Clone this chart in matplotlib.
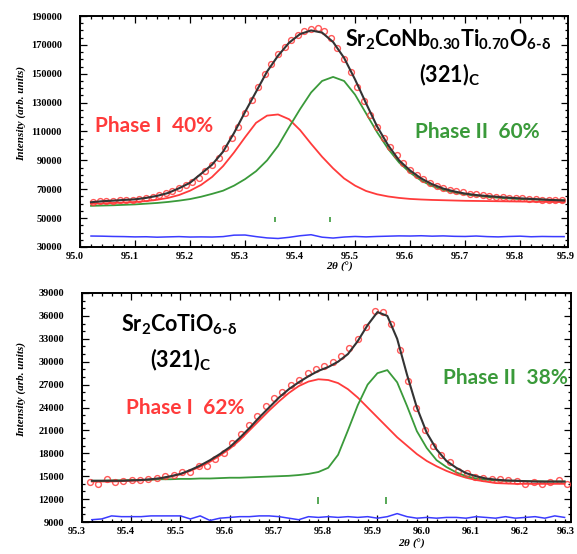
import matplotlib
matplotlib.use('Agg')
import matplotlib.pyplot as plt
from matplotlib.ticker import MultipleLocator
from matplotlib.transforms import ScaledTranslation

plt.rcParams['mathtext.fontset'] = 'custom'
plt.rcParams['mathtext.rm'] = 'Lato:bold'
plt.rcParams['mathtext.default'] = 'regular'
plt.rcParams['xtick.direction'] = 'in'
plt.rcParams['ytick.direction'] = 'in'

# ---- top panel: Sr2CoNb0.30Ti0.70O6-d ----
top_x = [95.02, 95.04, 95.06, 95.08, 95.10, 95.12, 95.14, 95.16, 95.18, 95.20, 95.22,
         95.24, 95.26, 95.28, 95.30, 95.32, 95.34, 95.36, 95.38, 95.40, 95.42, 95.44,
         95.46, 95.48, 95.50, 95.52, 95.54, 95.56, 95.58, 95.60, 95.62, 95.64, 95.66,
         95.68, 95.70, 95.72, 95.74, 95.76, 95.78, 95.80, 95.82, 95.84, 95.86, 95.88]
top_calc = [61000, 61700, 62100, 62600, 63000, 64000, 65400, 67400, 70700, 74500, 80700,
            87000, 96000, 109000, 123500, 137500, 151500, 162500, 171500, 177500, 180000, 178500,
            172000, 161000, 146000, 129500, 113500, 100500, 90000, 83000, 77500, 73500, 70500,
            68500, 67000, 66000, 65300, 64700, 64100, 63700, 63300, 62900, 62500, 62200]
top_phase1 = [60000, 60200, 60500, 60800, 61200, 61800, 62700, 64000, 66000, 69000, 73000,
              78500, 86000, 95500, 106000, 116000, 121000, 121800, 118500, 111000, 101500, 92500,
              84500, 77500, 72500, 68800, 66500, 65000, 64000, 63300, 62900, 62600, 62400,
              62200, 62000, 61900, 61800, 61700, 61600, 61500, 61400, 61300, 61200, 61100]
top_phase2 = [58500, 58700, 58900, 59200, 59500, 60000, 60500, 61200, 62100, 63200, 64800,
              66800, 69000, 72500, 77000, 82500, 90000, 100000, 113000, 125500, 137000, 145000,
              147800, 145000, 135500, 122500, 109500, 98000, 88500, 81500, 76000, 72200, 69500,
              67700, 66500, 65500, 64700, 64100, 63600, 63200, 63000, 62800, 62600, 62400]
top_diff = [37600, 37500, 37300, 37200, 37000, 37100, 36800, 37000, 37200, 36900, 37000,
            36900, 37200, 38200, 38300, 37200, 36300, 35900, 36700, 37800, 38500, 36800,
            36200, 36900, 37300, 37000, 37300, 37500, 37700, 37600, 37800, 37500, 37700,
            37400, 37300, 37600, 37200, 37000, 37300, 37500, 37100, 37300, 37200, 37200]
top_obs_x = [95.024, 95.036, 95.048, 95.060, 95.072, 95.084, 95.096, 95.108, 95.120, 95.132,
             95.144, 95.156, 95.168, 95.180, 95.192, 95.204, 95.216, 95.228, 95.240, 95.252,
             95.264, 95.276, 95.288, 95.300, 95.312, 95.324, 95.336, 95.348, 95.360, 95.372,
             95.384, 95.396, 95.408, 95.420, 95.432, 95.444, 95.456, 95.468, 95.480, 95.492,
             95.504, 95.516, 95.528, 95.540, 95.552, 95.564, 95.576, 95.588, 95.600, 95.612,
             95.624, 95.636, 95.648, 95.660, 95.672, 95.684, 95.696, 95.708, 95.720, 95.732,
             95.744, 95.756, 95.768, 95.780, 95.792, 95.804, 95.816, 95.828, 95.840, 95.852,
             95.864, 95.876]
top_obs = [61300, 61800, 62000, 62200, 62500, 62700, 62900, 63400, 64100, 64800,
           65900, 67100, 68700, 70600, 72900, 75200, 78000, 82500, 87000, 91500,
           98500, 105500, 113000, 122500, 131500, 140500, 149500, 157000, 163500, 168500,
           173500, 177000, 179500, 181000, 181500, 179500, 175000, 168000, 160000, 151000,
           141000, 131000, 121500, 113000, 105500, 99000, 93500, 88000, 83500, 80000,
           77000, 74500, 72500, 71000, 69800, 68800, 67800, 67000, 66400, 65800,
           65300, 64900, 64500, 64200, 63900, 63600, 63300, 63100, 62900, 62700,
           62500, 62300]
top_bragg = [95.355, 95.455]

# ---- bottom panel: Sr2CoTiO6-d ----
bot_x = [95.32, 95.34, 95.36, 95.38, 95.40, 95.42, 95.44, 95.46, 95.48, 95.50, 95.52,
         95.54, 95.56, 95.58, 95.60, 95.62, 95.64, 95.66, 95.68, 95.70, 95.72, 95.74,
         95.76, 95.78, 95.80, 95.82, 95.84, 95.86, 95.88, 95.90, 95.92, 95.94, 95.96,
         95.98, 96.00, 96.02, 96.04, 96.06, 96.08, 96.10, 96.12, 96.14, 96.16, 96.18,
         96.20, 96.22, 96.24, 96.26, 96.28]
bot_calc = [14400, 14400, 14400, 14400, 14450, 14500, 14600, 14750, 15000, 15300, 15800,
            16400, 17100, 17900, 18800, 20000, 21300, 22700, 24000, 25300, 26400, 27300,
            28100, 28800, 29300, 30000, 31000, 32700, 34800, 36500, 36000, 33000, 28300,
            24000, 20700, 18500, 17000, 16100, 15400, 15000, 14700, 14550, 14450, 14400,
            14350, 14300, 14300, 14300, 14300]
bot_phase1 = [14300, 14300, 14300, 14350, 14400, 14450, 14550, 14700, 14950, 15250, 15700,
              16250, 16900, 17700, 18600, 19700, 21000, 22300, 23600, 24800, 25900, 26800,
              27400, 27700, 27600, 27200, 26400, 25300, 24000, 22700, 21400, 20100, 19000,
              17900, 17000, 16300, 15700, 15200, 14800, 14500, 14300, 14100, 14050, 14000,
              14000, 14000, 14000, 14000, 14000]
bot_phase2 = [14400, 14400, 14450, 14450, 14500, 14500, 14550, 14600, 14600, 14650, 14650,
              14700, 14700, 14750, 14800, 14800, 14850, 14900, 14950, 15000, 15050, 15150,
              15300, 15550, 16100, 17800, 21000, 24300, 27000, 28500, 28900, 27300, 24200,
              20900, 18700, 17100, 16200, 15500, 15000, 14700, 14550, 14450, 14400, 14400,
              14350, 14350, 14300, 14300, 14300]
bot_diff = [9300, 9400, 9800, 9700, 9700, 9700, 9800, 9800, 9800, 9800, 9400,
            9800, 9200, 9500, 9600, 9700, 9700, 9800, 9800, 9700, 9500, 9300,
            9700, 9600, 9700, 9600, 9700, 9600, 9700, 9500, 9700, 10100, 9700,
            9500, 9600, 9500, 9600, 9600, 9500, 9700, 9600, 9500, 9700, 9500,
            9600, 9700, 9500, 9800, 9600]
bot_obs_x = [95.316, 95.333, 95.350, 95.367, 95.384, 95.401, 95.418, 95.435, 95.452, 95.469,
             95.486, 95.503, 95.520, 95.537, 95.554, 95.571, 95.588, 95.605, 95.622, 95.639,
             95.656, 95.673, 95.690, 95.707, 95.724, 95.741, 95.758, 95.775, 95.792, 95.809,
             95.826, 95.843, 95.860, 95.877, 95.894, 95.911, 95.928, 95.945, 95.962, 95.979,
             95.996, 96.013, 96.030, 96.047, 96.064, 96.081, 96.098, 96.115, 96.132, 96.149,
             96.166, 96.183, 96.200, 96.217, 96.234, 96.251, 96.268, 96.285]
bot_obs = [14200, 14000, 14600, 14300, 14400, 14500, 14500, 14600, 14700, 15000,
           15200, 15600, 15500, 16300, 16400, 17200, 18100, 19400, 20500, 21700,
           22900, 24200, 25200, 26000, 27000, 27600, 28500, 29000, 29400, 30000,
           30700, 31800, 33000, 34600, 36600, 36500, 35000, 31500, 27500, 24000,
           21000, 19000, 17800, 16800, 15700, 15400, 14900, 14700, 14600, 14600,
           14500, 14400, 14000, 14300, 14000, 14300, 14500, 14000]
bot_bragg = [95.78, 95.917]

red = '#ff3b3b'
green = '#3a9a3a'
blue = '#3b3bff'
serif = 'Liberation Serif'
sans = ['Lato', 'DejaVu Sans']

fig = plt.figure(figsize=(5.77, 5.54), dpi=100)
ax1 = fig.add_axes([80/577, 307/554, 488/577, 231/554])
ax2 = fig.add_axes([82/577, 32/554, 489/577, 229/554])


def draw_panel(ax, x, calc, p1, p2, diff, ox, obs, bragg, bragg_y):
    ax.plot(ox, obs, 'o', ms=4.2, mfc='none', mec=red, mew=1.0, alpha=0.85, zorder=3)
    ax.plot(x, p1, color=red, lw=1.3, zorder=2)
    ax.plot(x, p2, color=green, lw=1.3, zorder=2)
    ax.plot(x, calc, color='#333333', lw=1.5, zorder=4)
    ax.plot(x, diff, color=blue, lw=1.1, zorder=2)
    ax.vlines(bragg, bragg_y[0], bragg_y[1], color=green, lw=1.2)
    for s in ax.spines.values():
        s.set_linewidth(1.4)
    ax.tick_params(which='both', top=True, right=True, width=0.9)
    ax.tick_params(which='major', length=5)
    ax.tick_params(which='minor', length=2.5)
    ax.tick_params(axis='y', which='major', pad=13)
    ax.set_ylabel('Intensity (arb. units)', family=serif, style='italic',
                  weight='bold', fontsize=8)
    ax.set_xlabel(r'2$\theta$ (°)', family=serif, style='italic', weight='bold', fontsize=8)
    for lab in ax.get_xticklabels() + ax.get_yticklabels():
        lab.set_family(serif)
        lab.set_weight('bold')
        lab.set_fontsize(7.5)
    for lab in ax.get_xticklabels():
        lab.set_transform(lab.get_transform() + ScaledTranslation(-0.05, 0, fig.dpi_scale_trans))


# top
ax1.set_xlim(95.0, 95.887)
ax1.set_ylim(30000, 190000)
ax1.set_xticks([95.0, 95.1, 95.2, 95.3, 95.4, 95.5, 95.6, 95.7, 95.8])
ax1.set_yticks(range(30000, 190001, 20000))
ax1.xaxis.set_minor_locator(MultipleLocator(0.02))
ax1.yaxis.set_minor_locator(MultipleLocator(5000))
draw_panel(ax1, top_x, top_calc, top_phase1, top_phase2, top_diff,
           top_obs_x, top_obs, top_bragg, (47000, 51000))
ax1.xaxis.set_label_coords(0.533, -0.055)
ax1.yaxis.set_label_coords(-0.11, 0.58)

# bottom
ax2.set_xlim(95.3, 96.293)
ax2.set_ylim(9000, 39000)
ax2.set_xticks([95.3, 95.4, 95.5, 95.6, 95.7, 95.8, 95.9, 96.0, 96.1, 96.2])
ax2.set_yticks(range(9000, 39001, 3000))
ax2.xaxis.set_minor_locator(MultipleLocator(0.02))
ax2.yaxis.set_minor_locator(MultipleLocator(1000))
draw_panel(ax2, bot_x, bot_calc, bot_phase1, bot_phase2, bot_diff,
           bot_obs_x, bot_obs, bot_bragg, (11400, 12300))
ax2.xaxis.set_label_coords(0.675, -0.065)
ax2.yaxis.set_label_coords(-0.115, 0.58)

# tick labels that sit at the right border in the original
for ax, xv in ((ax1, 95.9), (ax2, 96.3)):
    ax.annotate(str(xv), xy=(xv, 0), xycoords=('data', 'axes fraction'),
                xytext=(-6.5, -3.5), textcoords='offset points', ha='center', va='top',
                family=serif, weight='bold', fontsize=7.5, annotation_clip=False)

# annotations
kw = dict(family=sans, weight='bold', ha='center', va='center')
ax1.text(95.669, 173800, r'Sr$_2$CoNb$_{0.30}$Ti$_{0.70}$O$_{6\text{-}δ}$', fontsize=15.5, **kw)
ax1.text(95.671, 149400, r'(321)$_C$', fontsize=15.5, **kw)
ax1.text(95.135, 114000, 'Phase I  40%', color=red, fontsize=15, **kw)
ax1.text(95.722, 109800, 'Phase II  60%', color=green, fontsize=15, **kw)

ax2.text(95.497, 34800, r'Sr$_2$CoTiO$_{6\text{-}δ}$', fontsize=15.5, **kw)
ax2.text(95.501, 30200, r'(321)$_C$', fontsize=15.5, **kw)
ax2.text(95.509, 24000, 'Phase I  62%', color=red, fontsize=15, **kw)
ax2.text(96.160, 27800, 'Phase II  38%', color=green, fontsize=15, clip_on=False, **kw)

fig.savefig('out.png', dpi=100)
